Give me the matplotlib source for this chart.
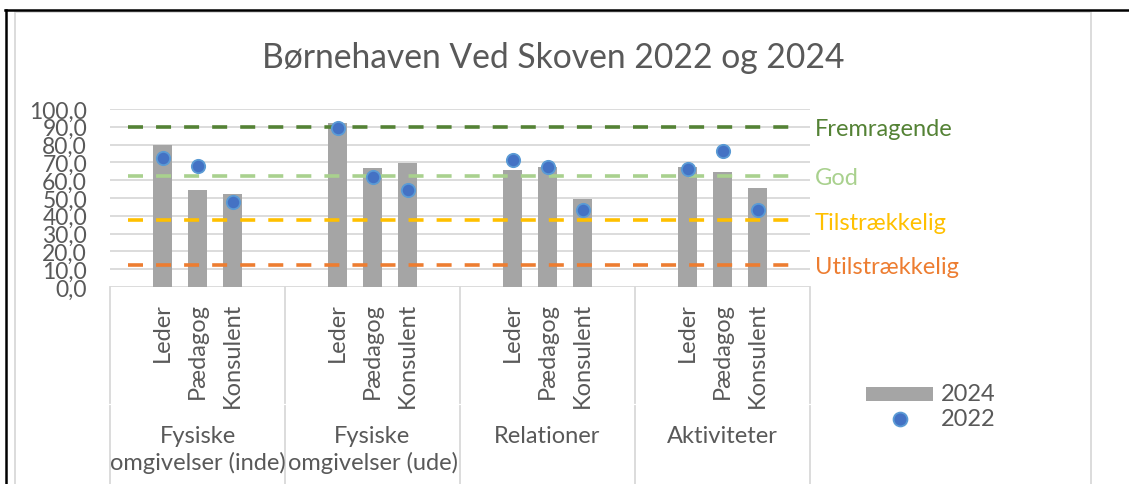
import matplotlib
matplotlib.use("Agg")
import matplotlib.pyplot as plt
from matplotlib import transforms
from matplotlib.patches import Rectangle
from matplotlib.lines import Line2D

# ---------------- data ----------------
groups = ["Fysiske\nomgivelser (inde)", "Fysiske\nomgivelser (ude)", "Relationer", "Aktiviteter"]
roles = ["Leder", "Pædagog", "Konsulent"]
values_2024 = [80, 54.5, 52, 92, 67, 69.5, 65.5, 67.5, 49.5, 67.5, 64.5, 55.5]
values_2022 = [72.5, 68, 47.5, 89.5, 62, 54.5, 71.5, 67.5, 43.5, 66.5, 76.5, 43.5]
threshold_names = ["Fremragende", "God", "Tilstrækkelig", "Utilstrækkelig"]
threshold_values = [90, 62.5, 37.5, 12.5]
threshold_colors = ["#548235", "#A9D18E", "#FFC000", "#ED7D31"]
title = "Børnehaven Ved Skoven 2022 og 2024"
yticks = list(range(0, 101, 10))

# ---------------- layout ----------------
W, H = 1129, 485
plt.rcParams["font.family"] = ["Lato", "DejaVu Sans"]
plt.rcParams["lines.scale_dashes"] = False
TXT = "#595959"
FS = 17

fig = plt.figure(figsize=(W / 100, H / 100), dpi=100)
fig.patch.set_facecolor("white")

def fx(x):
    return x / W

def fy(y):
    return 1 - y / H

# outer black frame (left + top)
fig.add_artist(Line2D([fx(6), fx(6)], [0, fy(10.5)], color="black", lw=1.8))
fig.add_artist(Line2D([fx(5), 1], [fy(10.5), fy(10.5)], color="black", lw=1.8))
# chart area border
fig.add_artist(Rectangle((fx(15), -0.02), fx(1091) - fx(15), fy(12.5) + 0.02,
                         fill=False, ec="#D9D9D9", lw=1.3))

ax = fig.add_axes([fx(110), fy(288), fx(810) - fx(110), fy(110) - fy(288)])
ax.set_xlim(-0.5, 19.5)
ax.set_ylim(0, 100)
for s in ax.spines.values():
    s.set_visible(False)
ax.set_xticks([])
ax.set_yticks(yticks)
ax.set_yticklabels([f"{v:.1f}".replace(".", ",") for v in yticks])
ax.tick_params(axis="y", length=0, pad=16.5, labelsize=16.5, labelcolor=TXT)
ax.yaxis.grid(True, color="#D9D9D9", lw=1.3, zorder=0)
ax.set_axisbelow(True)

n_groups = len(groups)
slots_per_group = 5
bar_x = [g * slots_per_group + 1 + i for g in range(n_groups) for i in range(len(roles))]

ax.bar(bar_x, values_2024, width=0.56, color="#A5A5A5", zorder=2, label="2024")

xs_line = [0, n_groups * slots_per_group - 1]
for name, val, col in zip(threshold_names, threshold_values, threshold_colors):
    ax.plot(xs_line, [val, val], color=col, lw=2.6, dashes=(10.8, 9.4), zorder=3)
    ax.annotate(name, xy=(815, val), xycoords=("figure pixels", "data"),
                color=col, fontsize=FS, va="center_baseline", ha="left",
                annotation_clip=False)

ax.plot(bar_x, values_2022, ls="none", marker="o", ms=9.6,
        mfc="#4472C4", mec="#5B9BD5", mew=1.3, zorder=4, label="2022")

# category axis (multi-level)
blend = transforms.blended_transform_factory(ax.transData, fig.transFigure)
for b in range(n_groups + 1):
    xb = b * slots_per_group - 0.5
    ax.plot([xb, xb], [fy(288), fy(404)], color="#D9D9D9", lw=1.3,
            transform=blend, clip_on=False)
    ax.plot([xb, xb], [fy(407), 0], color="#D9D9D9", lw=1.3,
            transform=blend, clip_on=False)
for x, r in zip(bar_x, roles * n_groups):
    ax.text(x, fy(303), r, rotation=90, ha="center", va="top",
            fontsize=FS, color=TXT, transform=blend)
for g, name in enumerate(groups):
    xc = g * slots_per_group + 2
    for k, line in enumerate(name.split("\n")):
        ax.text(xc, fy(437 + 26 * k), line, ha="center", va="center",
                fontsize=FS, color=TXT, transform=blend)

# title
fig.text(fx(553), fy(68), title, ha="center", va="baseline", fontsize=24.2, color=TXT)

# legend
fig.add_artist(Rectangle((fx(866), fy(402)), fx(933) - fx(866), fy(388) - fy(402),
                         color="#A5A5A5", lw=0))
fig.add_artist(Line2D([fx(900)], [fy(420)], ls="none", marker="o", ms=10,
                      mfc="#4472C4", mec="#5B9BD5", mew=1.3))
fig.text(fx(941), fy(395), "2024", ha="left", va="center", fontsize=FS, color=TXT)
fig.text(fx(941), fy(420), "2022", ha="left", va="center", fontsize=FS, color=TXT)

fig.savefig("out.png", dpi=100)
